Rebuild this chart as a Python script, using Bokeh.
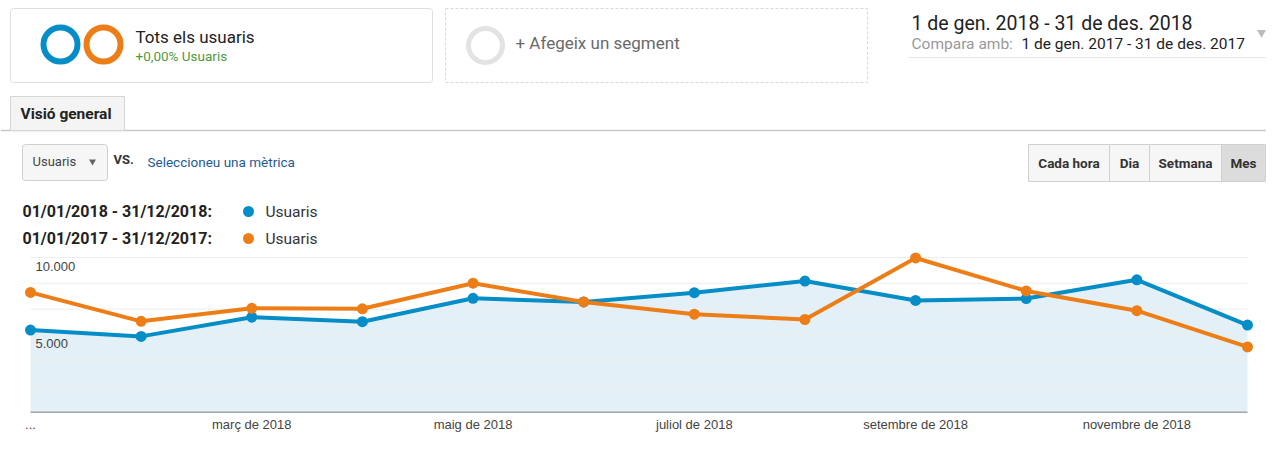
from bokeh.plotting import figure
from bokeh.layouts import column
from bokeh.models import Range1d, FixedTicker
from bokeh.core.properties import value
from bokeh.embed import file_html
from bokeh.resources import INLINE

# ---------------- data ----------------
months = ["gener de 2018", "febrer de 2018", "març de 2018", "abril de 2018",
          "maig de 2018", "juny de 2018", "juliol de 2018", "agost de 2018",
          "setembre de 2018", "octubre de 2018", "novembre de 2018", "desembre de 2018"]
users_2018 = [5320, 4910, 6150, 5860, 7370, 7130, 7730, 8480, 7230, 7350, 8560, 5640]
users_2017 = [7750, 5880, 6720, 6690, 8340, 7130, 6340, 6000, 9970, 7840, 6570, 4230]
y_ticks = [5000, 10000]
grid_values = [10000 * k / 6 for k in range(1, 7)]
x_tick_idx = [0, 2, 4, 6, 8, 10]
period_2018 = "01/01/2018 - 31/12/2018:"
period_2017 = "01/01/2017 - 31/12/2017:"
metric = "Usuaris"

BLUE = "#058DC7"
ORANGE = "#ED7E17"
RF = value("Roboto")
AF = value("Liberation Sans")

W = 1266
HA = 249
HB = 434 - HA
AXIS_H = 22
# ---------------- header (pixel-space decorations) ----------------
pa = figure(width=W, height=HA, x_range=Range1d(0, W), y_range=Range1d(HA, 0),
            x_axis_type=None, y_axis_type=None, toolbar_location=None,
            output_backend="svg", min_border=0, outline_line_color=None,
            background_fill_color="white", border_fill_color="white")
pa.grid.visible = False

def txt(x, y, s, size, color, style="normal", align="left", font=RF):
    pa.text(x=[x], y=[y], text=[s], text_font=font, text_font_size=f"{size}px",
            text_color=color, text_font_style=style, text_align=align,
            text_baseline="middle")

# segment box 1
pa.quad(left=[10], right=[432], top=[8], bottom=[82], fill_color="white",
        line_color="#dedede", line_width=1, border_radius=3)
pa.circle(x=[60], y=[44], radius=17, fill_color=None, line_color=BLUE, line_width=6)
pa.circle(x=[103], y=[44], radius=17, fill_color=None, line_color=ORANGE, line_width=6)
txt(135, 36, "Tots els usuaris", 17, "#222222")
txt(135, 55, "+0,00% Usuaris", 13.5, "#4e9a3f")

# segment box 2 (dashed)
pa.quad(left=[445], right=[867], top=[8], bottom=[82], fill_color="white",
        line_color="#d8d8d8", line_width=1, line_dash="3 2")
pa.circle(x=[485], y=[45], radius=17, fill_color=None, line_color="#e3e3e3", line_width=5)
txt(515, 42, "+ Afegeix un segment", 17, "#6a6a6a")

# date range
txt(911, 23, "1 de gen. 2018 - 31 de des. 2018", 19.5, "#222222")
txt(911, 43, "Compara amb:", 15.5, "#999999")
txt(1021, 43, "1 de gen. 2017 - 31 de des. 2017", 15.5, "#222222")
pa.scatter(x=[1261], y=[32], marker="inverted_triangle", size=9,
           fill_color="#bbbbbb", line_color=None)
pa.segment(x0=[908], x1=[1266], y0=[57], y1=[57], line_color="#e6e6e6", line_width=1)

# tab
pa.segment(x0=[0], x1=[W], y0=[130], y1=[130], line_color="#c8c8c8", line_width=1.5)
pa.quad(left=[10], right=[124], top=[96], bottom=[130], fill_color="#f4f4f4",
        line_color="#d6d6d6", line_width=1)
txt(20, 113, "Visió general", 15.5, "#222222", "bold")

# metric dropdown
pa.quad(left=[22], right=[107], top=[144], bottom=[180], fill_color="#f6f6f6",
        line_color="#cfcfcf", line_width=1, border_radius=3)
txt(32, 161, metric, 13, "#444444")
pa.scatter(x=[92], y=[161], marker="inverted_triangle", size=7,
           fill_color="#666666", line_color=None)
txt(113, 159, "VS.", 13, "#333333", "bold")
txt(147, 161, "Seleccioneu una mètrica", 13.5, "#1f5b93")

# granularity buttons
btn_edges = [1028, 1109, 1149, 1221, 1265]
btn_labels = ["Cada hora", "Dia", "Setmana", "Mes"]
for i, lab in enumerate(btn_labels):
    fill = "#dcdcdc" if lab == "Mes" else "#f6f6f6"
    pa.quad(left=[btn_edges[i]], right=[btn_edges[i + 1]], top=[144], bottom=[181],
            fill_color=fill, line_color="#d0d0d0", line_width=1)
    txt((btn_edges[i] + btn_edges[i + 1]) / 2, 162, lab, 13.5, "#333333", "bold", "center")

# legend
txt(22, 211, period_2018, 16, "#222222", "bold")
txt(22, 238, period_2017, 16, "#222222", "bold")
pa.circle(x=[248, 248], y=[211, 238], radius=5.5, fill_color=[BLUE, ORANGE], line_color=None)
txt(265, 211, metric, 15.5, "#333333")
txt(265, 238, metric, 15.5, "#333333")

# ---------------- chart ----------------
x = list(range(len(months)))
px_per_unit = (1247 - 30) / 11.0
x_start = -30 / px_per_unit
x_end = 11 + (W - 1247) / px_per_unit
zero_px = 434.0 - AXIS_H
ten_k_px = 257.0
y_top = (zero_px - HA) / ((zero_px - ten_k_px) / 10000.0)

pb = figure(width=W, height=HB, x_range=Range1d(x_start, x_end), y_range=Range1d(0, y_top),
            y_axis_type=None, toolbar_location=None, output_backend="svg",
            min_border=0, min_border_bottom=AXIS_H, outline_line_color=None,
            background_fill_color="white", border_fill_color="white")
pb.grid.visible = False

pb.varea(x=x, y1=[0] * len(x), y2=users_2018, fill_color="#e3f0f7")
pb.segment(x0=[x[0]] * len(grid_values), x1=[x[-1]] * len(grid_values),
           y0=grid_values, y1=grid_values, line_color="#e9eef1", line_width=1)
pb.segment(x0=[x[0]], x1=[x[-1]], y0=[0], y1=[0], line_color="#555555", line_width=1.5)

pb.line(x, users_2018, line_color=BLUE, line_width=4)
pb.scatter(x, users_2018, size=11, fill_color=BLUE, line_color=None)
pb.line(x, users_2017, line_color=ORANGE, line_width=4)
pb.scatter(x, users_2017, size=11, fill_color=ORANGE, line_color=None)

pb.text(x=[x[0]] * len(y_ticks), y=y_ticks,
        text=[f"{v:,}".replace(",", ".") for v in y_ticks],
        text_font=AF, text_font_size="13px", text_color="#444444",
        text_baseline="top", text_align="left", x_offset=5, y_offset=4)

ax = pb.xaxis[0]
ax.ticker = FixedTicker(ticks=x_tick_idx)
ax.major_label_overrides = {i: ("..." if i == 0 else months[i]) for i in x_tick_idx}
ax.axis_line_color = None
ax.major_tick_line_color = None
ax.minor_tick_line_color = None
ax.major_tick_out = 0
ax.major_tick_in = 0
ax.minor_tick_out = 0
ax.major_label_standoff = 4
ax.major_label_text_font = "Liberation Sans"
ax.major_label_text_font_size = "13px"
ax.major_label_text_color = "#444444"

layout = column(pa, pb, spacing=0)
open("out.html", "w").write(file_html(layout, INLINE))
